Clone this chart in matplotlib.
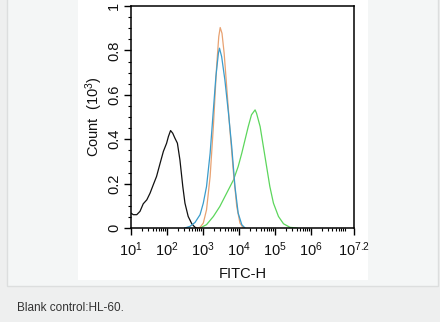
import matplotlib
matplotlib.use("Agg")
import matplotlib.pyplot as plt
from matplotlib.patches import Rectangle
from matplotlib.ticker import FixedLocator, MultipleLocator, NullFormatter
import numpy as np

plt.rcParams['font.family'] = ['Liberation Sans', 'DejaVu Sans']
plt.rcParams['mathtext.default'] = 'regular'

# log10(FITC-H) and Count (10^3) for each histogram
black_logx = [1.00, 1.065, 1.16, 1.25, 1.34, 1.44, 1.53, 1.62, 1.71, 1.81, 1.90, 1.99, 2.04, 2.10, 2.16, 2.22, 2.29, 2.36, 2.44, 2.50, 2.59, 2.69, 2.78, 2.87]
black_y = [0.067, 0.060, 0.060, 0.075, 0.109, 0.127, 0.157, 0.195, 0.232, 0.292, 0.345, 0.382, 0.412, 0.439, 0.427, 0.405, 0.382, 0.307, 0.187, 0.112, 0.052, 0.019, 0.003, 0.0]

blue_logx = [2.50, 2.64, 2.78, 2.92, 3.01, 3.10, 3.20, 3.29, 3.36, 3.43, 3.46, 3.52, 3.61, 3.71, 3.80, 3.89, 3.98, 4.08, 4.17]
blue_y = [0.0, 0.0075, 0.025, 0.060, 0.112, 0.187, 0.337, 0.532, 0.682, 0.787, 0.810, 0.772, 0.667, 0.517, 0.367, 0.187, 0.067, 0.015, 0.0]

orange_logx = [2.83, 2.92, 3.01, 3.10, 3.20, 3.29, 3.38, 3.44, 3.48, 3.53, 3.59, 3.66, 3.75, 3.85, 3.94, 4.03, 4.12]
orange_y = [0.0, 0.003, 0.022, 0.082, 0.232, 0.457, 0.727, 0.862, 0.903, 0.877, 0.787, 0.637, 0.442, 0.247, 0.097, 0.022, 0.0]

green_logx = [2.92, 3.10, 3.29, 3.47, 3.66, 3.85, 3.98, 4.08, 4.17, 4.26, 4.35, 4.45, 4.49, 4.59, 4.68, 4.77, 4.86, 4.96, 5.10, 5.24, 5.42, 5.61]
green_y = [0.0, 0.015, 0.052, 0.097, 0.157, 0.217, 0.277, 0.337, 0.397, 0.457, 0.510, 0.532, 0.517, 0.457, 0.367, 0.277, 0.187, 0.112, 0.052, 0.019, 0.003, 0.0]

x_tick_exps = ['1', '2', '3', '4', '5', '6', '7.2']
y_ticks = [0, 0.2, 0.4, 0.6, 0.8, 1]
y_tick_labels = ['0', '0.2', '0.4', '0.6', '0.8', '1']

W, H = 440, 322
fig = plt.figure(figsize=(W / 100, H / 100), dpi=100)
fig.patch.set_facecolor('#eeefef')

# outer panel box
fig.patches.append(Rectangle((7 / W, (H - 286) / H), 431 / W, 286 / H + 0.01,
                             transform=fig.transFigure, facecolor='#f4f6f6',
                             edgecolor='#dcdede', linewidth=1, zorder=-3))
# white image area
fig.patches.append(Rectangle((78 / W, (H - 280) / H), 290 / W, 280 / H + 0.01,
                             transform=fig.transFigure, facecolor='white',
                             edgecolor='none', zorder=-2))

ax = fig.add_axes([131 / W, (H - 228) / H, 223 / W, 222 / H])
ax.set_facecolor('white')

lw = 0.9
ax.plot([10 ** v for v in black_logx], black_y, color='#111111', lw=lw)
ax.plot([10 ** v for v in green_logx], green_y, color='#5cd65c', lw=lw)
ax.plot([10 ** v for v in orange_logx], orange_y, color='#e8a272', lw=lw)
ax.plot([10 ** v for v in blue_logx], blue_y, color='#3a9ccc', lw=lw)

ax.set_xscale('log')
ax.set_xlim(10 ** 1, 10 ** 7.2)
ax.set_ylim(0, 1)

ax.xaxis.set_major_locator(FixedLocator([10 ** float(e) for e in x_tick_exps]))
ax.set_xticklabels([r'$10^{%s}$' % e for e in x_tick_exps])
minor = [m * 10 ** d for d in range(1, 7) for m in range(2, 10)]
ax.xaxis.set_minor_locator(FixedLocator(minor))
ax.xaxis.set_minor_formatter(NullFormatter())

ax.set_yticks(y_ticks)
ax.set_yticklabels(y_tick_labels, rotation=90, va='center')
ax.yaxis.set_minor_locator(MultipleLocator(0.05))

ax.tick_params(axis='both', which='major', direction='out', length=5, width=1,
               labelsize=10.5, color='black', labelcolor='#111111')
ax.tick_params(axis='both', which='minor', direction='out', length=2.5, width=0.8)
ax.tick_params(axis='x', which='major', pad=4)
ax.tick_params(axis='y', which='major', pad=2)

for s in ax.spines.values():
    s.set_linewidth(1.1)
    s.set_color('black')

ax.set_xlabel('FITC-H', fontsize=10.5, labelpad=6, color='#111111')
ax.set_ylabel(r'Count  (10$^3$)', fontsize=10.5, labelpad=2, color='#111111')

fig.text(17 / W, (H - 308) / H, 'Blank control:HL-60.', fontsize=8.5,
         color='#333333', va='center', ha='left')

fig.savefig('out.png', dpi=100, facecolor=fig.get_facecolor())
